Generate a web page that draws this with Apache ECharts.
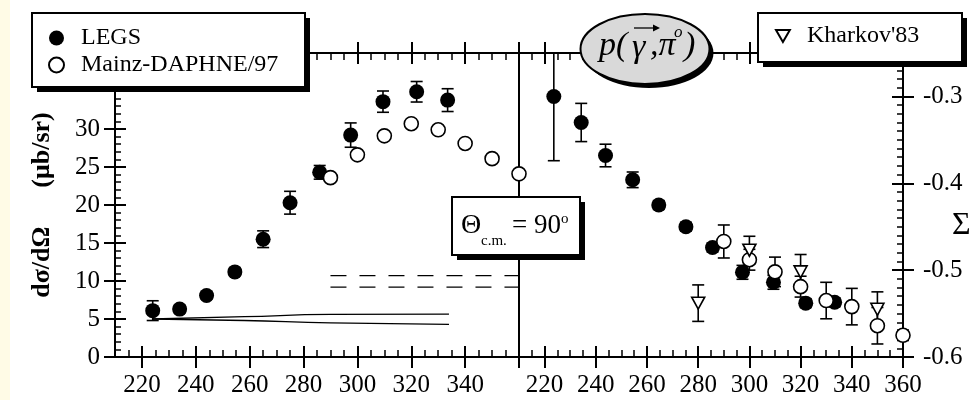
<!DOCTYPE html>
<html><head><meta charset="utf-8">
<script src="https://cdn.jsdelivr.net/npm/echarts@6/dist/echarts.min.js"></script>
<style>html,body{margin:0;padding:0;background:#fff}#c{width:980px;height:400px}</style>
</head><body><div id="c"></div>
<script>
// ---------- data ----------
const xMajorTicks = [220, 240, 260, 280, 300, 320, 340, 360];
const leftXLabels = [220, 240, 260, 280, 300, 320, 340];
const rightXLabels = [220, 240, 260, 280, 300, 320, 340, 360];
const leftYLabels = [0, 5, 10, 15, 20, 25, 30];
const rightYLabels = [-0.6, -0.5, -0.4, -0.3];

// left panel: d sigma / d Omega (mub/sr)
const legsLeftE   = [224, 234, 244, 254.5, 265, 275, 286, 297.5, 309.5, 322, 333.5];
const legsLeftY   = [6.1, 6.3, 8.1, 11.2, 15.5, 20.3, 24.3, 29.2, 33.6, 34.9, 33.8];
const legsLeftErr = [1.3, 0.5, 0.5, 0.5, 1.1, 1.5, 0.9, 1.6, 1.4, 1.35, 1.5];

const mainzLeftE = [290, 300, 310, 320, 330, 340, 350, 360];
const mainzLeftY = [23.6, 26.6, 29.1, 30.7, 29.9, 28.1, 26.1, 24.1];

const dashUpper = [[290, 10.7], [360, 10.7]];
const dashLower = [[290, 9.2], [360, 9.2]];
const solidUpper = [[224, 5.0], [258, 5.3], [290, 5.6], [334, 5.65]];
const solidLower = [[224, 5.0], [258, 4.8], [290, 4.5], [334, 4.3]];

// right panel: Sigma
const legsRightE   = [223.6, 234.3, 243.8, 254.4, 264.6, 275.2, 285.6, 297.3, 309.4, 322, 333.3];
const legsRightS   = [-0.300, -0.330, -0.368, -0.396, -0.425, -0.450, -0.474, -0.5025, -0.514, -0.538, -0.537];
const legsRightErr = [0.074, 0.022, 0.013, 0.009, 0.005, 0.005, 0.005, 0.008, 0.008, 0.005, 0.005];

const mainzRightE   = [290, 300, 310, 320, 330, 340, 350, 360];
const mainzRightS   = [-0.467, -0.488, -0.502, -0.519, -0.535, -0.542, -0.564, -0.575];
const mainzRightErr = [0.019, 0.012, 0.017, 0.012, 0.021, 0.021, 0.021, 0.006];

const kharkovE   = [280, 300, 320, 350];
const kharkovS   = [-0.538, -0.477, -0.502, -0.545];
const kharkovErr = [0.021, 0.016, 0.020, 0.020];

// ---------- helpers ----------
const FONT = "'Liberation Serif','Times New Roman',serif";
const TRI = 'path://M0,0L12,0L6,10.4Z';
const pts = (xs, ys) => xs.map((x, i) => [x, ys[i]]);
const errs = (xs, ys, es) => xs.map((x, i) => [x, ys[i] - es[i], ys[i] + es[i]]);

function errRender(params, api) {
  const x = api.value(0), lo = api.value(1), hi = api.value(2);
  const cs = params.coordSys;
  const pLo = api.coord([x, lo]), pHi = api.coord([x, hi]);
  const top = cs.y, bot = cs.y + cs.height;
  let yHi = pHi[1], yLo = pLo[1];
  const capHi = yHi >= top, capLo = yLo <= bot;
  yHi = Math.max(yHi, top); yLo = Math.min(yLo, bot);
  const x0 = pLo[0], w = 6;
  const st = { stroke: '#000', lineWidth: 1.6 };
  const ch = [{ type: 'line', shape: { x1: x0, y1: yLo, x2: x0, y2: yHi }, style: st }];
  if (capHi) ch.push({ type: 'line', shape: { x1: x0 - w, y1: yHi, x2: x0 + w, y2: yHi }, style: st });
  if (capLo) ch.push({ type: 'line', shape: { x1: x0 - w, y1: yLo, x2: x0 + w, y2: yLo }, style: st });
  return { type: 'group', children: ch };
}

function xAxesFor(g, labels) {
  const base = (pos) => ({
    type: 'value', gridIndex: g, min: 210, max: 360, position: pos,
    splitLine: { show: false }, axisLine: { show: false, onZero: false },
    axisLabel: { show: false }, axisTick: { show: false }
  });
  const out = [];
  ['bottom', 'top'].forEach(pos => {
    const main = base(pos);
    main.axisLine = { show: true, onZero: false, lineStyle: { color: '#000', width: 2 } };
    main.axisTick = { show: true, inside: true, length: 11, customValues: xMajorTicks, lineStyle: { color: '#000', width: 2 } };
    if (pos === 'bottom') {
      main.axisLabel = { show: true, customValues: labels, fontFamily: FONT, fontSize: 25, color: '#000', margin: 16 };
    }
    const outer = base(pos);
    outer.axisTick = { show: true, inside: false, length: 11, customValues: xMajorTicks, lineStyle: { color: '#000', width: 2 } };
    const minor = base(pos);
    minor.interval = 5;
    minor.axisTick = { show: true, inside: true, length: 7, lineStyle: { color: '#000', width: 1.5 } };
    out.push(main, outer, minor);
  });
  return out;
}

const xAxis = xAxesFor(0, leftXLabels).concat(xAxesFor(1, rightXLabels));
// grid0 main bottom = 0, grid1 main bottom = 6

const yBase = (g, pos, min, max) => ({
  type: 'value', gridIndex: g, position: pos, min, max,
  splitLine: { show: false }, axisLine: { show: false, onZero: false },
  axisLabel: { show: false }, axisTick: { show: false }
});

const yL0 = yBase(0, 'left', 0, 40);
yL0.interval = 5;
yL0.axisLine = { show: true, onZero: false, lineStyle: { color: '#000', width: 2 } };
yL0.axisTick = { show: true, inside: true, length: 11, lineStyle: { color: '#000', width: 2 } };
yL0.axisLabel = { show: true, fontFamily: FONT, fontSize: 25, color: '#000', margin: 15,
  formatter: v => leftYLabels.indexOf(Math.round(v)) >= 0 ? String(Math.round(v)) : '' };
yL0.name = 'dσ/dΩ      (μb/sr)';
yL0.nameLocation = 'middle';
yL0.nameRotate = 90;
yL0.nameGap = 60;
yL0.nameTextStyle = { fontFamily: FONT, fontSize: 26, fontWeight: 'bold', color: '#000' };

const yL1 = yBase(0, 'left', 0, 40);
yL1.interval = 5;
yL1.axisTick = { show: true, inside: false, length: 11, lineStyle: { color: '#000', width: 2 } };

const yL2 = yBase(0, 'left', 0, 40);
yL2.interval = 1;
yL2.axisTick = { show: true, inside: true, length: 6, lineStyle: { color: '#000', width: 1.5 } };

const yDiv = yBase(0, 'right', 0, 40);
yDiv.axisLine = { show: true, onZero: false, lineStyle: { color: '#000', width: 2 } };

const yR0 = yBase(1, 'right', -0.6, -0.25);
yR0.interval = 0.1;
yR0.axisLine = { show: true, onZero: false, lineStyle: { color: '#000', width: 2 } };
yR0.axisTick = { show: true, inside: true, length: 11, lineStyle: { color: '#000', width: 2 } };
yR0.axisLabel = { show: true, fontFamily: FONT, fontSize: 25, color: '#000', margin: 20,
  formatter: v => rightYLabels.some(t => Math.abs(t - v) < 1e-6) ? v.toFixed(1) : '' };

const yR1 = yBase(1, 'right', -0.6, -0.25);
yR1.interval = 0.1;
yR1.axisTick = { show: true, inside: false, length: 11, lineStyle: { color: '#000', width: 2 } };

const yR2 = yBase(1, 'right', -0.6, -0.25);
yR2.interval = 0.01;
yR2.axisTick = { show: true, inside: true, length: 6, lineStyle: { color: '#000', width: 1.5 } };

const yAxis = [yL0, yL1, yL2, yDiv, yR0, yR1, yR2];

const legsStyle = { color: '#000', opacity: 1 };
const openStyle = { color: '#fff', borderColor: '#000', borderWidth: 1.6, opacity: 1 };

const errSeries = (data, xi, yi) => ({
  type: 'custom', xAxisIndex: xi, yAxisIndex: yi, renderItem: errRender,
  encode: { x: 0, y: [1, 2] }, data, z: 2, silent: true
});
const lineSeries = (data, dashed) => ({
  type: 'line', xAxisIndex: 0, yAxisIndex: 0, data, symbol: 'none', smooth: !dashed,
  lineStyle: { color: '#000', width: 1.3, type: dashed ? [16, 13] : 'solid' }, z: 1, silent: true
});

const series = [
  lineSeries(dashUpper, true), lineSeries(dashLower, true),
  lineSeries(solidUpper, false), lineSeries(solidLower, false),
  errSeries(errs(legsLeftE, legsLeftY, legsLeftErr), 0, 0),
  { name: 'LEGS', type: 'scatter', xAxisIndex: 0, yAxisIndex: 0, symbol: 'circle', symbolSize: 15,
    itemStyle: legsStyle, data: pts(legsLeftE, legsLeftY), z: 3 },
  { name: 'Mainz-DAPHNE/97', type: 'scatter', xAxisIndex: 0, yAxisIndex: 0, symbol: 'circle', symbolSize: 14,
    itemStyle: openStyle, data: pts(mainzLeftE, mainzLeftY), z: 4 },
  errSeries(errs(legsRightE, legsRightS, legsRightErr), 6, 4),
  errSeries(errs(mainzRightE, mainzRightS, mainzRightErr), 6, 4),
  errSeries(errs(kharkovE, kharkovS, kharkovErr), 6, 4),
  { name: 'LEGS', type: 'scatter', xAxisIndex: 6, yAxisIndex: 4, symbol: 'circle', symbolSize: 15,
    itemStyle: legsStyle, data: pts(legsRightE, legsRightS), z: 3 },
  { name: 'Mainz-DAPHNE/97', type: 'scatter', xAxisIndex: 6, yAxisIndex: 4, symbol: 'circle', symbolSize: 14,
    itemStyle: openStyle, data: pts(mainzRightE, mainzRightS), z: 4 },
  { name: "Kharkov'83", type: 'scatter', xAxisIndex: 6, yAxisIndex: 4, symbol: TRI, symbolSize: [13, 12],
    itemStyle: openStyle, data: pts(kharkovE, kharkovS), z: 5 }
];

const legendCommon = {
  backgroundColor: 'transparent', borderWidth: 0, padding: 0,
  textStyle: { fontFamily: FONT, fontSize: 24, color: '#000' },
  itemWidth: 15, itemHeight: 15, selectedMode: false, z: 60, formatter: '  {name}'
};

const boxes = (x, y, w, h) => [
  { type: 'rect', shape: { x: x + 5, y: y + 5, width: w, height: h }, style: { fill: '#000' }, z: 50, silent: true },
  { type: 'rect', shape: { x, y, width: w, height: h }, style: { fill: '#fff', stroke: '#000', lineWidth: 2 }, z: 51, silent: true }
];
const txt = (x, y, text, size, extra) => ({ type: 'text', x, y, z: 102, silent: true,
  style: Object.assign({ text, fontFamily: FONT, fontSize: size, fill: '#000', align: 'left', verticalAlign: 'middle' }, extra || {}) });

const option = {
  animation: false,
  backgroundColor: '#fff',
  grid: [
    { left: 115, top: 53, width: 404, height: 304, containLabel: false, outerBoundsMode: 'none' },
    { left: 519, top: 53, width: 384, height: 304, containLabel: false, outerBoundsMode: 'none' }
  ],
  xAxis, yAxis, series,
  legend: [
    Object.assign({}, legendCommon, { data: ['LEGS', 'Mainz-DAPHNE/97'], orient: 'vertical',
      left: 48, top: 26, itemGap: 3 }),
    Object.assign({}, legendCommon, { data: [{ name: "Kharkov'83", icon: TRI }], orient: 'vertical',
      left: 775, top: 24, itemWidth: 14, itemHeight: 12 })
  ],
  graphic: [
    { type: 'rect', left: 0, top: 0, shape: { width: 10, height: 400 }, style: { fill: '#fffbe6' }, z: 0, silent: true },
    ...boxes(32, 13, 273, 74),
    ...boxes(758, 13, 204, 49),
    // reaction label ellipse
    { type: 'ellipse', shape: { cx: 649, cy: 53, rx: 64.5, ry: 35 }, style: { fill: '#000' }, z: 100, silent: true },
    { type: 'ellipse', shape: { cx: 645, cy: 49, rx: 64.5, ry: 35 }, style: { fill: '#d9d9d9', stroke: '#000', lineWidth: 2 }, z: 101, silent: true },
    txt(599, 46, 'p(', 34, { fontStyle: 'italic' }),
    txt(632, 48, 'γ', 34, { fontStyle: 'italic' }),
    txt(650, 46, ',π', 34, { fontStyle: 'italic' }),
    txt(674, 33, 'o', 17, { fontStyle: 'italic' }),
    txt(684, 46, ')', 34, { fontStyle: 'italic' }),
    { type: 'line', shape: { x1: 634, y1: 28, x2: 657, y2: 28 }, style: { stroke: '#000', lineWidth: 1.3 }, z: 102, silent: true },
    { type: 'polygon', shape: { points: [[660, 28], [653, 24.5], [653, 31.5]] }, style: { fill: '#000' }, z: 102, silent: true },
    // theta box
    { type: 'rect', shape: { x: 457, y: 202, width: 128, height: 58 }, style: { fill: '#000' }, z: 100, silent: true },
    { type: 'rect', shape: { x: 452, y: 197, width: 128, height: 58 }, style: { fill: '#fff', stroke: '#000', lineWidth: 2 }, z: 101, silent: true },
    txt(461, 226, 'Θ', 28),
    txt(481, 241, 'c.m.', 15),
    txt(512, 226, '= 90', 27),
    txt(561, 219, 'o', 15),
    // Sigma axis title
    txt(952, 226, 'Σ', 32)
  ]
};

echarts.init(document.getElementById('c'), null, { renderer: 'canvas' }).setOption(option);
</script>
</body></html>
